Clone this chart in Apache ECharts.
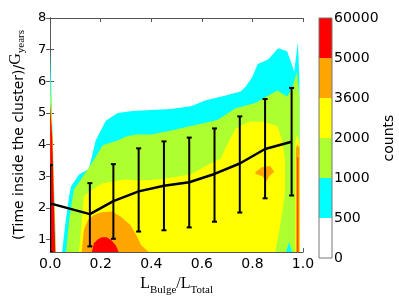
<!DOCTYPE html>
<html><head><meta charset="utf-8">
<script src="https://cdn.jsdelivr.net/npm/echarts@6/dist/echarts.min.js"></script>
<style>html,body{margin:0;padding:0;background:#fff}#c{width:399px;height:301px}</style>
</head><body><div id="c"></div>
<script>
// ---- data ----
const yTicks = [1, 2, 3, 4, 5, 6, 7, 8];
const binX  = [0.0, 0.157, 0.25, 0.35, 0.45, 0.55, 0.65, 0.75, 0.85, 0.955];
const meanY = [2.14, 1.80, 2.21, 2.52, 2.70, 2.81, 3.07, 3.40, 3.86, 4.09];
const lowY  = [0.6, 0.78, 1.02, 1.25, 1.29, 1.38, 1.56, 1.85, 2.30, 2.39];
const highY = [3.35, 2.78, 3.38, 3.88, 4.10, 4.22, 4.51, 4.89, 5.44, 5.79];
const levelLabels = ['0', '500', '1000', '2000', '3600', '5000', '60000'];
const levelColors = ['#ffffff', '#00ffff', '#adff2f', '#ffff00', '#ffa500', '#ff0000'];

// contour regions (data coordinates), one list per filled level
const cyanRegions = [
  [[0.047,0.6],[0.059,1.44],[0.075,2.37],[0.082,2.67],[0.114,3.05],[0.153,3.23],[0.180,4.13],[0.220,4.75],[0.267,5.00],[0.325,5.06],[0.40,5.09],[0.478,5.12],[0.557,5.21],[0.616,5.40],[0.694,5.55],[0.753,5.68],[0.773,5.83],[0.80,6.14],[0.820,6.54],[0.863,6.70],[0.902,7.04],[0.937,6.95],[0.957,6.51],[0.965,6.3],[0.980,7.23],[0.986,6.0],[0.986,0.6]],
  [[0,0.6],[0,7.0],[0.01,4.2],[0.023,0.6]]
];
const greenRegions = [
  [[0.063,0.6],[0.075,1.6],[0.094,2.58],[0.129,2.98],[0.161,3.36],[0.208,3.98],[0.267,4.13],[0.298,4.25],[0.337,4.32],[0.40,4.32],[0.478,4.44],[0.557,4.59],[0.616,4.69],[0.663,4.78],[0.733,5.15],[0.812,5.31],[0.898,5.71],[0.937,5.52],[0.957,5.77],[0.976,6.3],[0.986,5.5],[0.986,0.6],[0.957,0.6],[0.945,0.92],[0.933,0.6]],
  [[0,0.6],[0,6.2],[0.009,4.2],[0.022,0.6]]
];
const yellowRegions = [
  [[0.114,0.6],[0.125,1.6],[0.133,2.37],[0.173,2.61],[0.204,2.77],[0.247,2.83],[0.298,2.90],[0.341,2.86],[0.40,2.88],[0.451,2.92],[0.557,3.06],[0.624,3.36],[0.675,3.56],[0.70,4.0],[0.733,4.5],[0.784,4.72],[0.843,4.72],[0.898,4.59],[0.918,4.13],[0.929,3.51],[0.929,2.58],[0.922,2.06],[0.905,1.22],[0.89,0.6]],
  [[0,0.6],[0,5.7],[0.009,4.2],[0.021,0.6]],
  [[0.969,0.6],[0.969,4.1],[0.976,4.3],[0.986,4.1],[0.988,0.6]]
];
const orangeRegions = [
  [[0.125,0.6],[0.133,1.3],[0.15,1.62],[0.175,1.78],[0.205,1.86],[0.245,1.88],[0.28,1.72],[0.318,1.45],[0.34,1.15],[0.36,0.82],[0.39,0.6]],
  [[0.812,3.13],[0.839,3.29],[0.87,3.32],[0.886,3.15],[0.867,3.0],[0.855,2.83],[0.84,3.0],[0.812,3.07]],
  [[0,0.6],[0,5.4],[0.009,4.2],[0.021,0.6]],
  [[0.972,0.6],[0.972,3.9],[0.979,4.0],[0.986,3.9],[0.986,0.6]]
];
const redRegions = [
  [[0.165,0.6],[0.173,0.88],[0.188,1.0],[0.204,1.07],[0.224,1.07],[0.243,0.97],[0.259,0.82],[0.271,0.6]],
  [[0,0.6],[0,5.3],[0.008,4.2],[0.02,0.6]],
  [[0.978,0.6],[0.978,3.6],[0.981,3.6],[0.981,0.6]]
];

// ---- chart ----
const chart = echarts.init(document.getElementById('c'), null, {renderer: 'canvas'});
const axisCol = '#555';
const sans = 'DejaVu Sans';
const serif = 'Liberation Serif';

function contourSeries(regions, color) {
  return {
    type: 'custom', xAxisIndex: 0, yAxisIndex: 0, clip: true, silent: true, z: 1,
    data: regions.map((r, i) => [r[0][0], r[0][1], i]),
    renderItem: function (params, api) {
      const pts = regions[api.value(2)].map(p => api.coord(p));
      return {type: 'polygon', shape: {points: pts}, style: {fill: color, stroke: null}};
    }
  };
}

const cbSeries = levelColors.map((c, i) => ({
  type: 'bar', xAxisIndex: 2, yAxisIndex: 2, stack: 'cb', barWidth: '100%',
  data: [1], itemStyle: {color: c}, silent: true
}));

chart.setOption({
  animation: false,
  backgroundColor: '#fff',
  grid: [
    {left: 48, top: 18, width: 255, height: 239},
    {left: 319, top: 18, width: 13, height: 240, show: true, borderColor: '#777', borderWidth: 1, z: 10}
  ],
  xAxis: [
    {type: 'value', gridIndex: 0, min: 0, max: 1, interval: 0.2, position: 'bottom',
     axisLine: {lineStyle: {color: axisCol}}, splitLine: {show: false},
     axisTick: {inside: true, length: 4, lineStyle: {color: axisCol}},
     axisLabel: {formatter: v => v.toFixed(1), fontSize: 14, color: '#000', fontFamily: sans, margin: 5},
     name: '{a|L}{b|Bulge}{a|/L}{b|Total}', nameLocation: 'middle', nameGap: 23,
     nameTextStyle: {rich: {
       a: {fontFamily: serif, fontSize: 16, color: '#000', verticalAlign: 'bottom', padding: [0, 0, 4, 0]},
       b: {fontFamily: serif, fontSize: 11, color: '#000', verticalAlign: 'bottom'}
     }}},
    {type: 'value', gridIndex: 0, min: 0, max: 1, interval: 0.2, position: 'top',
     axisLine: {lineStyle: {color: axisCol}}, splitLine: {show: false},
     axisTick: {inside: true, length: 4, lineStyle: {color: axisCol}}, axisLabel: {show: false}},
    {type: 'category', gridIndex: 1, data: ['c'], show: false}
  ],
  yAxis: [
    {type: 'value', gridIndex: 0, min: 0.6, max: 8, position: 'left',
     axisLine: {show: true, lineStyle: {color: axisCol}}, splitLine: {show: false},
     axisTick: {show: true, inside: true, length: 4, customValues: yTicks, lineStyle: {color: axisCol}},
     axisLabel: {customValues: yTicks, fontSize: 13, color: '#000', fontFamily: sans, margin: 4},
     name: '{a|(Time inside the cluster)/}{g|G}{s|years}', nameLocation: 'middle', nameRotate: 90, nameGap: 12,
     nameTextStyle: {rich: {
       a: {fontFamily: sans, fontSize: 14, color: '#000', verticalAlign: 'bottom', padding: [0, 0, 1, 0]},
       g: {fontFamily: serif, fontSize: 16, color: '#000', verticalAlign: 'bottom', padding: [0, 0, 3, 0]},
       s: {fontFamily: serif, fontSize: 11, color: '#000', verticalAlign: 'bottom'}
     }}},
    {type: 'value', gridIndex: 0, min: 0.6, max: 8, position: 'right',
     axisLine: {show: true, lineStyle: {color: axisCol}}, splitLine: {show: false},
     axisTick: {show: true, inside: true, length: 4, customValues: yTicks, lineStyle: {color: axisCol}},
     axisLabel: {show: false}},
    {type: 'value', gridIndex: 1, min: 0, max: 6, interval: 1, position: 'right',
     axisLine: {show: false}, axisTick: {show: false}, splitLine: {show: false},
     axisLabel: {formatter: v => levelLabels[v], fontSize: 14, color: '#000', fontFamily: sans, margin: 2},
     name: 'counts', nameLocation: 'middle', nameRotate: 90, nameGap: 50,
     nameTextStyle: {fontFamily: sans, fontSize: 14, color: '#000'}}
  ],
  series: [
    contourSeries(cyanRegions, levelColors[1]),
    contourSeries(greenRegions, levelColors[2]),
    contourSeries(yellowRegions, levelColors[3]),
    contourSeries(orangeRegions, levelColors[4]),
    contourSeries(redRegions, levelColors[5]),
    {
      type: 'custom', xAxisIndex: 0, yAxisIndex: 0, clip: true, z: 5,
      data: binX.map((x, i) => [x, lowY[i], highY[i]]),
      renderItem: function (params, api) {
        const t = api.coord([api.value(0), api.value(2)]);
        const b = api.coord([api.value(0), api.value(1)]);
        const hw = 2.5;
        const st = {stroke: '#000', lineWidth: 2};
        return {type: 'group', children: [
          {type: 'line', shape: {x1: t[0], y1: t[1], x2: b[0], y2: b[1]}, style: st},
          {type: 'line', shape: {x1: t[0] - hw, y1: t[1], x2: t[0] + hw, y2: t[1]}, style: st},
          {type: 'line', shape: {x1: b[0] - hw, y1: b[1], x2: b[0] + hw, y2: b[1]}, style: st}
        ]};
      }
    },
    {
      type: 'line', xAxisIndex: 0, yAxisIndex: 0, z: 6, symbol: 'none',
      lineStyle: {color: '#000', width: 2.5},
      data: binX.map((x, i) => [x, meanY[i]])
    }
  ].concat(cbSeries)
});
</script>
</body></html>
